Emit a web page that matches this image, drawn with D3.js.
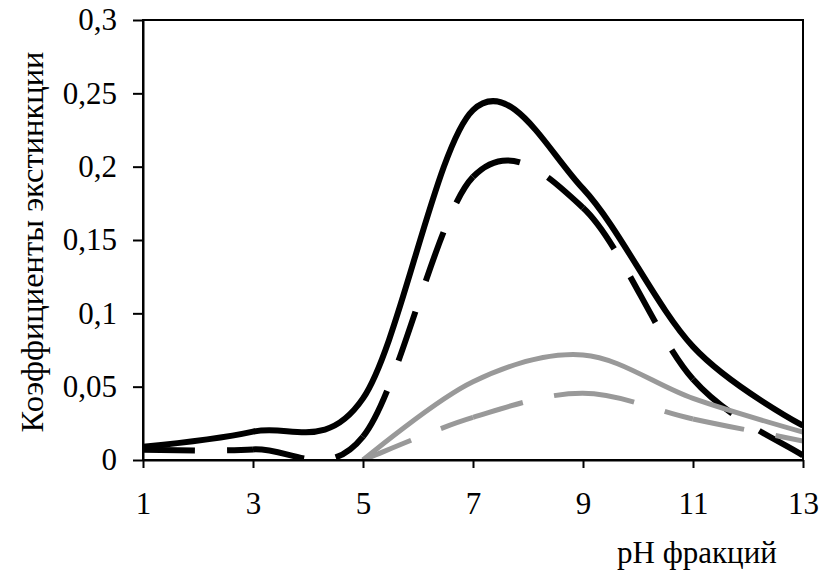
<!DOCTYPE html>
<html>
<head>
<meta charset="utf-8">
<script src="https://cdn.jsdelivr.net/npm/d3@7"></script>
<style>
  body { margin: 0; background: #fff; }
  svg text { font-family: "Liberation Serif", "Times New Roman", serif; fill: #000; }
</style>
</head>
<body>
<svg id="chart" width="822" height="574"></svg>
<script>
// pH of the fractions and extinction coefficients of the four series
const phAll = [1, 3, 5, 7, 9, 11, 13];
const solidBlack = [0.009, 0.0193, 0.042, 0.2386, 0.185, 0.0773, 0.0234];
const dashedBlack = [0.007, 0.0072, 0.016, 0.193, 0.172, 0.055, 0.003];
const phGray = [5, 7, 9, 11, 13];
const solidGray = [0, 0.0534, 0.0716, 0.042, 0.019];
const dashedGray = [0, 0.029, 0.0455, 0.028, 0.013];

const xTicks = [1, 3, 5, 7, 9, 11, 13];
const yTicks = [0, 0.05, 0.1, 0.15, 0.2, 0.25, 0.3];
const yTickLabels = ["0", "0,05", "0,1", "0,15", "0,2", "0,25", "0,3"];
const xTitle = "pH фракций";
const yTitle = "Коэффициенты экстинкции";

const plot = { left: 143, right: 803, top: 20, bottom: 460 };
const svg = d3.select("#chart");

const x = d3.scaleLinear().domain([1, 13]).range([plot.left, plot.right]);
const y = d3.scaleLinear().domain([0, 0.3]).range([plot.bottom, plot.top]);

svg.append("defs").append("clipPath").attr("id", "plot-clip")
  .append("rect")
  .attr("x", plot.left).attr("y", plot.top)
  .attr("width", plot.right - plot.left).attr("height", plot.bottom - plot.top);

// Smoothed curve pieces, one per interval, so that a dash pattern
// starts over at every measured point.
function smoothPieces(xs, ys) {
  const pts = xs.map((v, i) => [x(v), y(ys[i])]);
  const n = pts.length;
  const pieces = [];
  for (let i = 0; i < n - 1; i++) {
    const p0 = pts[Math.max(i - 1, 0)], p1 = pts[i], p2 = pts[i + 1], p3 = pts[Math.min(i + 2, n - 1)];
    const c1 = [p1[0] + (p2[0] - p0[0]) / 6, p1[1] + (p2[1] - p0[1]) / 6];
    const c2 = [p2[0] - (p3[0] - p1[0]) / 6, p2[1] - (p3[1] - p1[1]) / 6];
    const path = d3.path();
    path.moveTo(p1[0], p1[1]);
    path.bezierCurveTo(c1[0], c1[1], c2[0], c2[1], p2[0], p2[1]);
    pieces.push(path.toString());
  }
  return pieces;
}

const curveLine = d3.line().x(d => x(d[0])).y(d => y(d[1])).curve(d3.curveCardinal.tension(0));

const lines = svg.append("g").attr("clip-path", "url(#plot-clip)")
  .attr("fill", "none").attr("stroke-linejoin", "round");

function drawSolid(xs, ys, color, width) {
  lines.append("path")
    .attr("d", curveLine(xs.map((v, i) => [v, ys[i]])))
    .attr("stroke", color).attr("stroke-width", width);
}
function drawDashed(xs, ys, color, width) {
  lines.selectAll(null).data(smoothPieces(xs, ys)).enter().append("path")
    .attr("d", d => d)
    .attr("stroke", color).attr("stroke-width", width)
    .attr("stroke-dasharray", "52,32").attr("stroke-linecap", "butt");
}

drawSolid(phAll, solidBlack, "#000", 6);
drawDashed(phAll, dashedBlack, "#000", 6);
drawSolid(phGray, solidGray, "#999", 5);
drawDashed(phGray, dashedGray, "#999", 5);

// Frame and axes
svg.append("rect")
  .attr("x", plot.left).attr("y", plot.top)
  .attr("width", plot.right - plot.left).attr("height", plot.bottom - plot.top)
  .attr("fill", "none").attr("stroke", "#000").attr("stroke-width", 2);

const yAxis = svg.append("g").attr("transform", `translate(${plot.left},0)`)
  .call(d3.axisLeft(y).tickValues(yTicks).tickSize(10).tickSizeOuter(0)
    .tickFormat((d, i) => yTickLabels[i]));
yAxis.selectAll("line").attr("stroke", "#000").attr("stroke-width", 2);
yAxis.select(".domain").attr("stroke", "#000").attr("stroke-width", 2);
yAxis.selectAll("text").attr("x", -26).attr("font-size", 31)
  .attr("font-family", "Liberation Serif, Times New Roman, serif");

const xAxis = svg.append("g").attr("transform", `translate(0,${plot.bottom})`)
  .call(d3.axisBottom(x).tickValues(xTicks).tickSize(8).tickSizeOuter(0).tickFormat(d3.format("d")));
xAxis.selectAll("line").attr("stroke", "#000").attr("stroke-width", 2);
xAxis.select(".domain").attr("stroke", "#000").attr("stroke-width", 2);
xAxis.selectAll("text").attr("y", 32).attr("font-size", 31)
  .attr("font-family", "Liberation Serif, Times New Roman, serif");

svg.append("text")
  .attr("x", 697).attr("y", 563)
  .attr("text-anchor", "middle").attr("font-size", 31)
  .text(xTitle);

svg.append("text")
  .attr("transform", `translate(43,${(plot.top + plot.bottom) / 2 + 2}) rotate(-90)`)
  .attr("text-anchor", "middle").attr("font-size", 32.5)
  .text(yTitle);
</script>
</body>
</html>
